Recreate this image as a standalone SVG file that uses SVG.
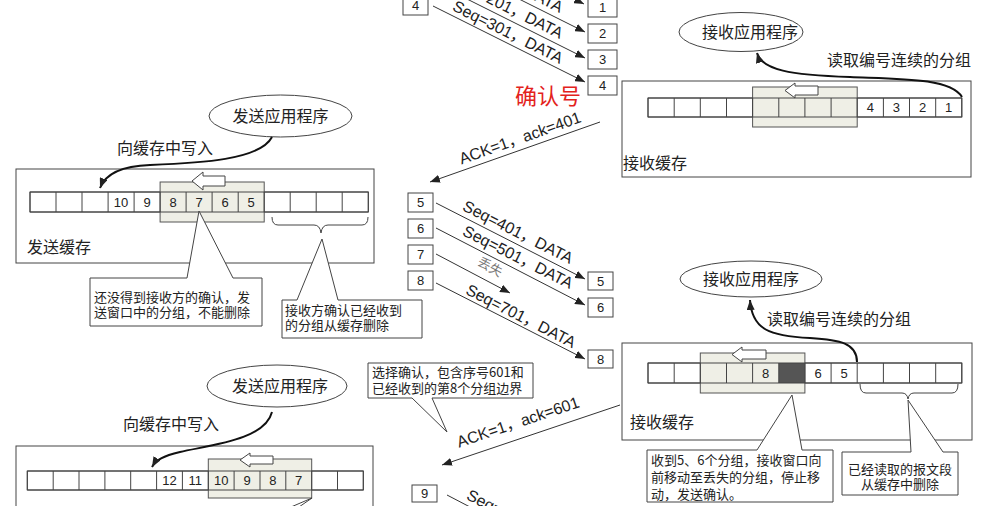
<svg xmlns="http://www.w3.org/2000/svg" width="981" height="506" viewBox="0 0 981 506">
<defs>
<marker id="ah" viewBox="0 0 10 8" refX="10" refY="4" markerWidth="10" markerHeight="8" markerUnits="userSpaceOnUse" orient="auto">
<path d="M0,0 L10,4 L0,8 z" fill="#222"/>
</marker>
<style>
.t{font-family:"Liberation Sans","Noto Sans CJK SC",sans-serif;fill:#222}
.c{font-family:"Noto Sans CJK SC","Liberation Sans",sans-serif;fill:#222}
.lbl{font-size:16px}
.num{font-size:13px;text-anchor:middle}
.note{font-size:13px}
.buf{fill:#fff;stroke:#444;stroke-width:1}
.row{fill:#fff;stroke:#444;stroke-width:1}
.grid{fill:none;stroke:#444;stroke-width:1}
.win{fill:#efefe6;stroke:#555;stroke-width:1}
.harrow{fill:#fff;stroke:#444;stroke-width:1}
.ell{fill:#fff;stroke:#444;stroke-width:1}
.box{fill:#fff;stroke:#444;stroke-width:1}
.call{fill:#fff;stroke:#444;stroke-width:1}
.ln{fill:none;stroke:#333;stroke-width:1;marker-end:url(#ah)}
.cv{fill:none;stroke:#111;stroke-width:2;marker-end:url(#ah)}
.brace{fill:none;stroke:#444;stroke-width:1}
</style>
</defs>
<rect width="981" height="506" fill="#fff"/>

<!-- Top-right receive buffer -->
<g id="recv-buffer-1">
<rect class="buf" x="622" y="81" width="349" height="96"/>
<rect class="row" x="648" y="98" width="313.8" height="19"/>
<rect class="win" x="752.6" y="87" width="104.6" height="40"/>
<path class="grid" d="M648,98h313.8v19h-313.8z M674.2,98v19 M700.3,98v19 M726.5,98v19 M752.6,98v19 M778.8,98v19 M804.9,98v19 M831.1,98v19 M857.2,98v19 M883.4,98v19 M909.5,98v19 M935.7,98v19"/>
<path class="harrow" d="M785,90.5 l10,-7.5 v3 h23 v9 h-23 v3 z"/>
<text class="t num" x="870.3" y="112">4</text>
<text class="t num" x="896.4" y="112">3</text>
<text class="t num" x="922.6" y="112">2</text>
<text class="t num" x="948.7" y="112">1</text>
<text class="c lbl" x="623" y="169">接收缓存</text>
</g>
<g id="recv-app-1">
<ellipse class="ell" cx="741" cy="32" rx="62" ry="19.5"/>
<text class="c lbl" x="750" y="38" text-anchor="middle">接收应用程序</text>
</g>
<text class="c lbl" x="827" y="66">读取编号连续的分组</text>

<!-- Middle-left send buffer -->
<g id="send-buffer-1">
<rect class="buf" x="16" y="169" width="358" height="94"/>
<rect class="row" x="30" y="192" width="338.3" height="20"/>
<rect class="win" x="160.1" y="182" width="104.1" height="40"/>
<path class="grid" d="M30,192h338.3v20h-338.3z M56,192v20 M82,192v20 M108.1,192v20 M134.1,192v20 M160.1,192v20 M186.1,192v20 M212.1,192v20 M238.2,192v20 M264.2,192v20 M290.2,192v20 M316.2,192v20 M342.2,192v20"/>
<path class="harrow" d="M192,181 l11,-9 v4 h22 v10 h-22 v4 z"/>
<text class="t num" x="121.1" y="206.5">10</text>
<text class="t num" x="147.1" y="206.5">9</text>
<text class="t num" x="173.1" y="206.5">8</text>
<text class="t num" x="199.1" y="206.5">7</text>
<text class="t num" x="225.1" y="206.5">6</text>
<text class="t num" x="251.2" y="206.5">5</text>
<path class="brace" d="M272,217 Q272,225 278,225 H314 Q320,225 321,233 Q322,225 328,225 H362 Q368,225 368,217"/>
<text class="c lbl" x="27" y="253">发送缓存</text>
</g>
<g id="send-app-1">
<ellipse class="ell" cx="280.5" cy="116" rx="71.5" ry="21"/>
<text class="c lbl" x="280.5" y="122" text-anchor="middle">发送应用程序</text>
</g>
<text class="c lbl" x="117" y="154">向缓存中写入</text>

<g id="note-1">
<path class="call" d="M90,278 H187 L199,211 L233,278 H262 V326 H90 Z"/>
<text class="c note" x="94" y="302">还没得到接收方的确认，发</text>
<text class="c note" x="94" y="317">送窗口中的分组，不能删除</text>
</g>
<g id="note-2">
<path class="call" d="M282,300 H297 L322,239 L338,300 H422 V338 H282 Z"/>
<text class="c note" x="285" y="315">接收方确认已经收到</text>
<text class="c note" x="285" y="330">的分组从缓存删除</text>
</g>

<!-- Right-bottom receive buffer -->
<g id="recv-buffer-2">
<rect class="buf" x="622" y="343" width="350" height="97"/>
<rect class="row" x="648" y="363" width="313.8" height="20"/>
<rect class="win" x="700.3" y="353" width="104.6" height="40"/>
<rect x="778.8" y="363" width="26.1" height="20" fill="#555"/>
<path class="grid" d="M648,363h313.8v20h-313.8z M674.2,363v20 M700.3,363v20 M726.5,363v20 M752.6,363v20 M778.8,363v20 M804.9,363v20 M831.1,363v20 M857.2,363v20 M883.4,363v20 M909.5,363v20 M935.7,363v20"/>
<path class="harrow" d="M732,354.5 l10,-7.5 v3 h24 v9 h-24 v3 z"/>
<text class="t num" x="765.7" y="377.5">8</text>
<text class="t num" x="818" y="377.5">6</text>
<text class="t num" x="844.1" y="377.5">5</text>
<path class="brace" d="M860,384 Q860,393 866,393 H902 Q907,393 908,399 Q909,393 914,393 H952 Q958,393 958,384"/>
<text class="c lbl" x="630" y="428">接收缓存</text>
</g>
<g id="recv-app-2">
<ellipse class="ell" cx="751" cy="279" rx="71" ry="18"/>
<text class="c lbl" x="751" y="285" text-anchor="middle">接收应用程序</text>
</g>
<text class="c lbl" x="767" y="325">读取编号连续的分组</text>
<g id="note-3">
<path class="call" d="M647,450 H757 L792,395 L802,450 H833 V502 H647 Z"/>
<text class="c note" x="651" y="465">收到5、6个分组，接收窗口向</text>
<text class="c note" x="651" y="482">前移动至丢失的分组，停止移</text>
<text class="c note" x="651" y="499">动，发送确认。</text>
</g>
<g id="note-4">
<path class="call" d="M842,452 H911 L908,400 L943,452 H958 V495 H842 Z"/>
<text class="c note" x="900" y="474" text-anchor="middle">已经读取的报文段</text>
<text class="c note" x="900" y="489" text-anchor="middle">从缓存中删除</text>
</g>

<!-- Bottom-left send buffer -->
<g id="send-buffer-2">
<rect class="buf" x="16" y="446" width="357" height="80"/>
<rect class="row" x="27.3" y="471" width="336" height="19"/>
<rect class="win" x="208.3" y="459" width="103.4" height="39"/>
<path class="grid" d="M27.3,471h336v19h-336z M53.2,471v19 M79,471v19 M104.9,471v19 M130.7,471v19 M156.6,471v19 M182.4,471v19 M208.3,471v19 M234.1,471v19 M260,471v19 M285.8,471v19 M311.7,471v19 M337.5,471v19"/>
<path class="harrow" d="M240,460 l10,-7 v3 h23 v8 h-23 v3 z"/>
<text class="t num" x="169.5" y="485">12</text>
<text class="t num" x="195.3" y="485">11</text>
<text class="t num" x="221.2" y="485">10</text>
<text class="t num" x="247" y="485">9</text>
<text class="t num" x="272.9" y="485">8</text>
<text class="t num" x="298.7" y="485">7</text>
<path class="brace" d="M312,498 L291,507 M312,498 L299,507"/>
</g>
<g id="send-app-2">
<ellipse class="ell" cx="277" cy="386" rx="70" ry="21"/>
<text class="c lbl" x="280" y="392" text-anchor="middle">发送应用程序</text>
</g>
<text class="c lbl" x="123" y="430">向缓存中写入</text>
<g id="note-5">
<path class="call" d="M368,363 H533 V398 H432 L447,432 L412,398 H368 Z"/>
<text class="c note" x="372" y="377">选择确认，包含序号601和</text>
<text class="c note" x="372" y="393">已经收到的第8个分组边界</text>
</g>

<!-- Segment boxes -->
<g id="seg-s4"><rect class="box" x="403" y="-5" width="25" height="20"/><text class="t num" x="415.5" y="10">4</text></g>
<g id="seg-r1"><rect class="box" x="588" y="-2" width="29" height="19"/><text class="t num" x="602.5" y="12">1</text></g>
<g id="seg-r2"><rect class="box" x="588" y="24" width="29" height="19"/><text class="t num" x="602.5" y="38">2</text></g>
<g id="seg-r3"><rect class="box" x="588" y="50" width="29" height="19"/><text class="t num" x="602.5" y="64">3</text></g>
<g id="seg-r4"><rect class="box" x="588" y="76" width="29" height="19"/><text class="t num" x="602.5" y="90">4</text></g>
<g id="seg-s5"><rect class="box" x="408" y="193" width="25" height="19"/><text class="t num" x="420.5" y="207">5</text></g>
<g id="seg-s6"><rect class="box" x="408" y="219" width="25" height="19"/><text class="t num" x="420.5" y="233">6</text></g>
<g id="seg-s7"><rect class="box" x="408" y="245" width="25" height="19"/><text class="t num" x="420.5" y="259">7</text></g>
<g id="seg-s8"><rect class="box" x="408" y="271" width="25" height="19"/><text class="t num" x="420.5" y="285">8</text></g>
<g id="seg-r5"><rect class="box" x="588" y="272" width="25" height="18"/><text class="t num" x="600.5" y="285.5">5</text></g>
<g id="seg-r6"><rect class="box" x="588" y="298" width="25" height="19"/><text class="t num" x="600.5" y="312">6</text></g>
<g id="seg-r8"><rect class="box" x="588" y="350" width="25" height="18"/><text class="t num" x="600.5" y="363.5">8</text></g>
<g id="seg-s9"><rect class="box" x="412" y="485" width="25" height="17"/><text class="t num" x="424.5" y="498">9</text></g>

<text class="c" x="515" y="104" font-size="22" style="fill:#e3221c">确认号</text>

<!-- Connectors -->
<g id="connectors">
<line class="ln" x1="433" y1="-72" x2="584" y2="4"/>
<line class="ln" x1="433" y1="-44" x2="585" y2="32"/>
<line class="ln" x1="433" y1="-18" x2="585" y2="58"/>
<line class="ln" x1="433" y1="6" x2="585" y2="82"/>
<line class="ln" x1="600" y1="122" x2="430" y2="182"/>
<line class="ln" x1="436" y1="203" x2="585" y2="279"/>
<line class="ln" x1="436" y1="228" x2="585" y2="305"/>
<line class="ln" x1="436" y1="254" x2="510" y2="293"/>
<line class="ln" x1="436" y1="283" x2="585" y2="359"/>
<line class="ln" x1="620" y1="405" x2="442" y2="465"/>
<line x1="447" y1="495" x2="470" y2="507" stroke="#333" stroke-width="1"/>
<path class="cv" d="M962,97 C950,78 900,79 850,77 C790,75 762,70 757,53"/>
<path class="cv" d="M272,137 C260,160 200,163 150,165 C120,166 105,175 100,188"/>
<path class="cv" d="M857,362 C857,343 840,340 810,338 C770,336 752,330 750,300"/>
<path class="cv" d="M272,412 C265,440 210,445 180,452 C163,456 156,460 152,467"/>
</g>

<!-- Connector labels -->
<g class="t" font-size="16" text-anchor="middle">
<text transform="translate(508,-19) rotate(26.6)" y="5.5">Seq=101，DATA</text>
<text transform="translate(508,7) rotate(26.6)" y="5.5">Seq=201，DATA</text>
<text transform="translate(508,32) rotate(26.6)" y="5.5">Seq=301，DATA</text>
<text transform="translate(520,138) rotate(-19.4)" y="5.5">ACK=1，ack=401</text>
<text transform="translate(518,232) rotate(26.8)" y="5.5">Seq=401，DATA</text>
<text transform="translate(518,257) rotate(26.8)" y="5.5">Seq=501，DATA</text>
<text transform="translate(521,316) rotate(27)" y="5.5">Seq=701，DATA</text>
<text transform="translate(518,422) rotate(-18.6)" y="5.5">ACK=1，ack=601</text>
<text transform="translate(522,521) rotate(26.6)" y="5.5">Seq=801，DATA</text>
</g>
<text class="c" transform="translate(490,267) rotate(28)" y="4.5" font-size="13" text-anchor="middle" style="fill:#777">丢失</text>
</svg>
